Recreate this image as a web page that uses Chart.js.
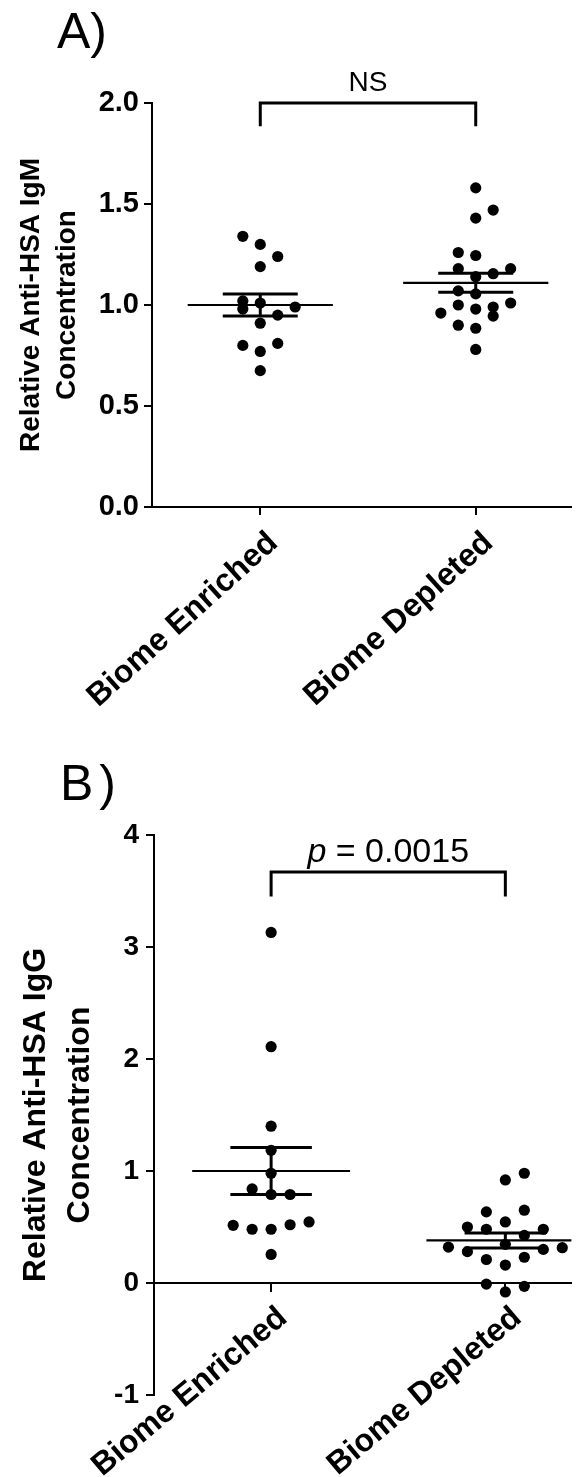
<!DOCTYPE html>
<html><head><meta charset="utf-8">
<script src="https://cdn.jsdelivr.net/npm/chart.js@4"></script>
<style>
html,body{margin:0;padding:0;background:#fff;}
body{width:577px;height:1477px;position:relative;overflow:hidden;font-family:"Liberation Sans",Arial,sans-serif;}
.panel{position:absolute;left:0;width:577px;}
.lab{position:absolute;font-size:50px;line-height:50px;color:#000;font-family:"Liberation Sans",Arial,sans-serif;}
</style></head><body>
<div class="lab" style="left:57px;top:6px">A)</div>
<div class="lab" style="left:60px;top:758px;letter-spacing:6px">B)</div>
<div class="panel" style="top:0;height:740px"><canvas id="cA"></canvas></div>
<div class="panel" style="top:740px;height:737px"><canvas id="cB"></canvas></div>
<script>
// ---------- data ----------
const categories = ['Biome Enriched', 'Biome Depleted'];

// Panel A: relative anti-HSA IgM
const igmEnriched    = [1.34, 1.30, 1.24, 1.19, 1.02, 1.01, 0.98, 0.99, 0.95, 0.91, 0.80, 0.81, 0.77, 0.675];
const igmEnrichedCol = [-1, 0, 1, 0, -1, 0, -1, 2, 1, 0, -1, 1, 0, 0];
const igmDepleted    = [1.58, 1.47, 1.43, 1.26, 1.245, 1.18, 1.18, 1.155, 1.14, 1.07, 1.055, 1.01, 0.96, 1.00, 0.98, 0.99, 0.945, 0.90, 0.885, 0.78];
const igmDepletedCol = [0, 1, 0, -1, 0, -1, 2, 1, 0, -1, 0, 2, -2, -1, 0, 1, 1, -1, 0, 0];
const igmMean = [1.00, 1.11];
const igmSem  = [0.055, 0.047];
const igmTicks = [0.0, 0.5, 1.0, 1.5, 2.0];
const igmBracket = [1.885, 2.0];

// Panel B: relative anti-HSA IgG
const iggEnriched    = [3.13, 2.11, 1.40, 1.185, 0.98, 0.84, 0.79, 0.79, 0.515, 0.48, 0.48, 0.52, 0.545, 0.255];
const iggEnrichedCol = [0, 0, 0, 0, 0, -1, 0, 1, -2, -1, 0, 1, 2, 0];
const iggDepleted    = [0.98, 0.92, 0.635, 0.65, 0.545, 0.50, 0.48, 0.425, 0.48, 0.345, 0.32, 0.28, 0.30, 0.315, 0.21, 0.16, 0.23, -0.01, -0.08, -0.03];
const iggDepletedCol = [1, 0, -1, 1, 0, -2, -1, 1, 2, 0, -3, -2, 2, 3, -1, 0, 1, -1, 0, 1];
const iggMean = [1.00, 0.38];
const iggSem  = [0.21, 0.067];
const iggTicks = [-1, 0, 1, 2, 3, 4];
const iggBracket = [3.45, 3.67];

const annotations = ['NS', 'p = 0.0015'];
const yTitles = [['Relative Anti-HSA IgM', 'Concentration'], ['Relative Anti-HSA IgG', 'Concentration']];

// ---------- style constants ----------
const FONT = '"Liberation Sans", Arial, sans-serif';
const JITTER = 0.081, MEAN_HALF = 0.337, SEM_HALF = 0.174;

const annotPlugin = {
  id: 'annot',
  afterDatasetsDraw(chart, args, o) {
    const {ctx} = chart; const x = chart.scales.x, y = chart.scales.y;
    const cx = x.getPixelForValue(0.5);
    const cy = y.getPixelForValue(o.level) - o.gap;
    ctx.save(); ctx.fillStyle = '#000'; ctx.textBaseline = 'alphabetic'; ctx.textAlign = 'left';
    const text = o.text;
    let parts;
    if (o.italicFirst) parts = [{t: text.slice(0, 1), f: 'italic ' + o.size + 'px ' + FONT}, {t: text.slice(1), f: o.size + 'px ' + FONT}];
    else parts = [{t: text, f: o.size + 'px ' + FONT}];
    let w = 0; parts.forEach(p => { ctx.font = p.f; p.w = ctx.measureText(p.t).width; w += p.w; });
    let px = cx - w / 2;
    parts.forEach(p => { ctx.font = p.f; ctx.fillText(p.t, px, cy); px += p.w; });
    ctx.restore();
  }
};

function lineDs(pts, width) {
  return {type: 'scatter', data: pts, showLine: true, borderColor: '#000', borderWidth: width,
          pointRadius: 0, pointHoverRadius: 0, fill: false, tension: 0, clip: false, order: 2};
}

function buildPanel(id, p) {
  const datasets = [];
  p.groups.forEach((g, i) => {
    datasets.push({type: 'scatter', data: g.vals.map((v, k) => ({x: i + g.cols[k] * JITTER, y: v})),
      pointRadius: 5.6, pointHoverRadius: 5.6, backgroundColor: '#000', borderWidth: 0, order: 1});
    const m = p.mean[i], s = p.sem[i];
    datasets.push(Object.assign(lineDs([{x: i - MEAN_HALF, y: m}, {x: i + MEAN_HALF, y: m}], 2.2), {clip: {left: false, top: false, bottom: false, right: 0}}));
    datasets.push(lineDs([{x: i - SEM_HALF, y: m + s}, {x: i + SEM_HALF, y: m + s}], 3));
    datasets.push(lineDs([{x: i - SEM_HALF, y: m - s}, {x: i + SEM_HALF, y: m - s}], 3));
    datasets.push(lineDs([{x: i, y: m - s}, {x: i, y: m + s}], 3));
  });
  datasets.push(lineDs([{x: 0, y: p.bracket[0]}, {x: 0, y: p.bracket[1]}, {x: 1, y: p.bracket[1]}, {x: 1, y: p.bracket[0]}], 3));

  const grid = {drawOnChartArea: false, drawTicks: true, tickLength: 8, color: '#000', lineWidth: 2};
  const border = {display: true, color: '#000', width: 2};
  return new Chart(document.getElementById(id), {
    type: 'scatter',
    data: {datasets},
    plugins: [annotPlugin],
    options: {
      responsive: true, maintainAspectRatio: false, animation: false, devicePixelRatio: 1,
      layout: {padding: p.padding},
      plugins: {legend: {display: false}, tooltip: {enabled: false},
                annot: p.annot},
      scales: {
        x: {
          type: 'linear', position: p.xPos, min: p.xMin, max: p.xMax,
          grid, border,
          afterBuildTicks: sc => { sc.ticks = categories.map((c, i) => ({value: i})); },
          afterFit: sc => { if (p.xHeight) sc.height = p.xHeight; },
          ticks: {autoSkip: false, minRotation: p.xRot, maxRotation: p.xRot, padding: p.xPad, labelOffset: p.xShift, color: '#000',
                  font: {family: FONT, size: p.xFont, weight: 'bold'},
                  callback: v => categories[v] ?? ''}
        },
        y: {
          type: 'linear', min: p.yMin, max: p.yMax,
          grid, border,
          afterBuildTicks: sc => { sc.ticks = p.ticks.map(v => ({value: v})); },
          afterFit: sc => { sc.width = p.yWidth; },
          ticks: {padding: p.yPad, color: '#000', font: {family: FONT, size: p.yFont, weight: 'bold'},
                  callback: p.fmt},
          title: {display: true, text: p.title, color: '#000', padding: {top: p.titlePad, bottom: 0},
                  font: {family: FONT, size: p.titleSize, weight: 'bold', lineHeight: p.titleLH}}
        }
      }
    }
  });
}

buildPanel('cA', {
  groups: [{vals: igmEnriched, cols: igmEnrichedCol}, {vals: igmDepleted, cols: igmDepletedCol}],
  mean: igmMean, sem: igmSem, bracket: igmBracket, ticks: igmTicks,
  yMin: 0, yMax: 2, xMin: -0.5025, xMax: 1.444, xPos: 'bottom', xHeight: 233,
  padding: {top: 103, left: 0, right: 0, bottom: 0},
  yWidth: 152, yPad: 5, yFont: 29, xFont: 32, xPad: 9, xShift: 13, xRot: 42,
  fmt: v => v.toFixed(1),
  title: yTitles[0], titleSize: 28, titleLH: 1.3, titlePad: 13,
  annot: {text: annotations[0], italicFirst: false, size: 28, level: igmBracket[1], gap: 12}
});

buildPanel('cB', {
  groups: [{vals: iggEnriched, cols: iggEnrichedCol}, {vals: iggDepleted, cols: iggDepletedCol}],
  mean: iggMean, sem: iggSem, bracket: iggBracket, ticks: iggTicks,
  yMin: -1, yMax: 4, xMin: -0.5, xMax: 1.282, xPos: {y: 0}, xHeight: 0,
  padding: {top: 95, left: 0, right: 0, bottom: 82},
  yWidth: 154, yPad: 7, yFont: 28, xFont: 32, xPad: 8, xShift: 12, xRot: 40,
  fmt: v => String(v),
  title: yTitles[1], titleSize: 32, titleLH: 1.35, titlePad: 15,
  annot: {text: annotations[1], italicFirst: true, size: 34, level: iggBracket[1], gap: 10}
});
</script>
</body></html>
